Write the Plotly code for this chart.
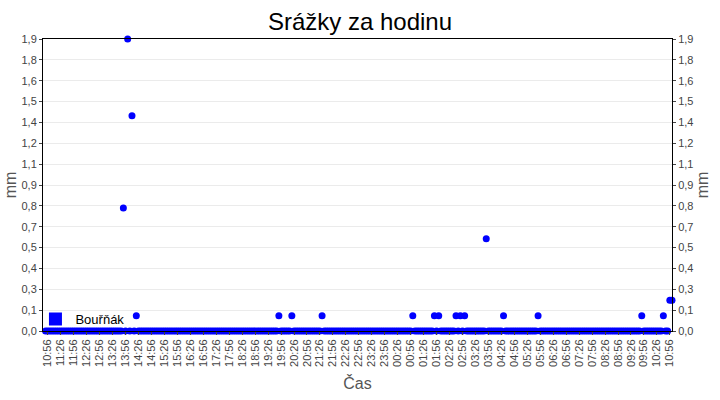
import plotly.graph_objects as go
import pandas as pd

# Data: hourly precipitation sum, measured every 5 minutes (one row = one hour)
start_time = "2024-01-01 10:51"
step_minutes = 5
rain_mm = [
    0, 0, 0, 0, 0, 0, 0, 0, 0, 0, 0, 0,
    0, 0, 0, 0, 0, 0, 0, 0, 0, 0, 0, 0,
    0, 0, 0, 0, 0, 0, 0, 0, 0, 0, 0, 0,
    0.8, 0, 1.9, 0, 1.4, 0, 0.1, 0, 0, 0, 0, 0,
    0, 0, 0, 0, 0, 0, 0, 0, 0, 0, 0, 0,
    0, 0, 0, 0, 0, 0, 0, 0, 0, 0, 0, 0,
    0, 0, 0, 0, 0, 0, 0, 0, 0, 0, 0, 0,
    0, 0, 0, 0, 0, 0, 0, 0, 0, 0, 0, 0,
    0, 0, 0, 0, 0, 0, 0, 0, 0, 0, 0, 0,
    0.1, 0, 0, 0, 0, 0, 0.1, 0, 0, 0, 0, 0,
    0, 0, 0, 0, 0, 0, 0, 0, 0.1, 0, 0, 0,
    0, 0, 0, 0, 0, 0, 0, 0, 0, 0, 0, 0,
    0, 0, 0, 0, 0, 0, 0, 0, 0, 0, 0, 0,
    0, 0, 0, 0, 0, 0, 0, 0, 0, 0, 0, 0,
    0, 0, 0.1, 0, 0, 0, 0, 0, 0, 0, 0, 0,
    0.1, 0, 0.1, 0, 0, 0, 0, 0, 0, 0, 0.1, 0,
    0.1, 0, 0.1, 0, 0, 0, 0, 0, 0, 0, 0, 0,
    0.6, 0, 0, 0, 0, 0, 0, 0, 0.1, 0, 0, 0,
    0, 0, 0, 0, 0, 0, 0, 0, 0, 0, 0, 0,
    0.1, 0, 0, 0, 0, 0, 0, 0, 0, 0, 0, 0,
    0, 0, 0, 0, 0, 0, 0, 0, 0, 0, 0, 0,
    0, 0, 0, 0, 0, 0, 0, 0, 0, 0, 0, 0,
    0, 0, 0, 0, 0, 0, 0, 0, 0, 0, 0, 0,
    0.1, 0, 0, 0, 0, 0, 0, 0, 0, 0, 0.1, 0,
    0, 0.2, 0.2,
]
times = pd.date_range(start_time, periods=len(rain_mm), freq=f"{step_minutes}min")

# X tick labels every 30 minutes
tick_times = pd.date_range("2024-01-01 10:56", "2024-01-02 10:56", freq="30min")
tick_labels = [t.strftime("%H:%M") for t in tick_times]

# Y ticks (15 ticks over 0..1.9, labels rounded with decimal comma)
y_max = 1.9
n_y_intervals = 14
y_tickvals = [y_max * i / n_y_intervals for i in range(n_y_intervals + 1)]
y_ticktext = [f"{v:.1f}".replace(".", ",") for v in y_tickvals]

series_name = "Bouřňák"
blue = "#0000FF"
font_family = "Liberation Sans, Arial, sans-serif"

fig = go.Figure()
fig.add_trace(go.Scatter(
    x=times, y=rain_mm, mode="markers",
    marker=dict(color=blue, size=7, symbol="circle"),
    cliponaxis=False, showlegend=False, name=series_name,
))
# legend entry with square symbol
fig.add_trace(go.Scatter(
    x=[None], y=[None], mode="markers",
    marker=dict(color=blue, size=13, symbol="square"),
    name=series_name, showlegend=True,
))
# invisible trace for right axis
fig.add_trace(go.Scatter(
    x=[times[0]], y=[0], mode="markers", yaxis="y2",
    marker=dict(opacity=0), showlegend=False, hoverinfo="skip",
))

axis_font = dict(family=font_family, size=11, color="#444444")
title_font = dict(family=font_family, size=16, color="#555555")

fig.update_layout(
    width=720, height=400,
    margin=dict(l=43, r=48, t=39, b=69, autoexpand=False),
    paper_bgcolor="white", plot_bgcolor="white",
    font=dict(family=font_family),
    title=dict(text="Srážky za hodinu", x=0.5, xanchor="center", y=0.945, yanchor="middle",
               font=dict(family=font_family, size=24, color="black")),
    xaxis=dict(
        type="date", automargin=False,
        range=["2024-01-01 10:45", "2024-01-02 11:01"],
        tickmode="array", tickvals=tick_times, ticktext=tick_labels,
        tickangle=-90, tickfont=axis_font,
        ticks="outside", ticklen=3, tickcolor="#444444",
        showgrid=False, zeroline=False,
        showline=True, linecolor="black", linewidth=1, mirror=True,
        title=dict(text="Čas", font=title_font, standoff=11),
    ),
    yaxis=dict(
        automargin=False,
        range=[0, y_max], tickmode="array", tickvals=y_tickvals, ticktext=y_ticktext,
        tickfont=axis_font, ticks="outside", ticklen=3, tickcolor="#444444",
        showgrid=True, gridcolor="#EBEBEB", gridwidth=1, zeroline=False,
        showline=True, linecolor="black", linewidth=1,
        title=dict(text="mm", font=title_font, standoff=0),
    ),
    yaxis2=dict(
        automargin=False,
        overlaying="y", side="right",
        range=[0, y_max], tickmode="array", tickvals=y_tickvals, ticktext=y_ticktext,
        tickfont=axis_font, ticks="outside", ticklen=3, tickcolor="#444444",
        showgrid=False, zeroline=False,
        showline=True, linecolor="black", linewidth=1,
        title=dict(text="mm", font=title_font, standoff=4),
    ),
    legend=dict(x=-0.012, y=0.041, xanchor="left", yanchor="middle",
                bgcolor="rgba(255,255,255,0)", borderwidth=0,
                font=dict(family=font_family, size=13, color="black"),
                itemwidth=30),
    showlegend=True,
)

fig.write_html("out.html", config={"displayModeBar": False},
               post_script="document.body.style.margin='0';")
